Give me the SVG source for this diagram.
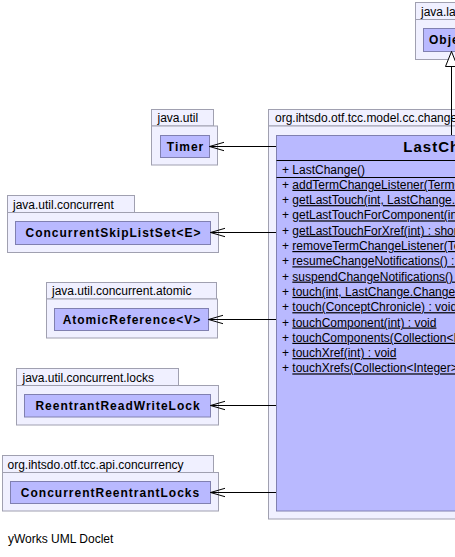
<svg xmlns="http://www.w3.org/2000/svg" width="455" height="557" viewBox="0 0 455 557">
<style>
.pkg{fill:#F0F0FF;stroke:#A0A0B0;stroke-width:1}
.cls{fill:#B9B9FF;stroke:#8080B0;stroke-width:1}
.pt{font-family:"Liberation Sans",Arial,sans-serif;font-size:12px;fill:#000}
.cn{font-family:"Liberation Sans",Arial,sans-serif;font-size:12px;font-weight:bold;letter-spacing:1px;fill:#000}
.title{font-family:"Liberation Sans",Arial,sans-serif;font-size:15px;font-weight:bold;letter-spacing:1px;fill:#000}
.m{font-family:"Liberation Sans",Arial,sans-serif;font-size:12px;fill:#000}
.u{text-decoration:underline}
.sep{stroke:#000;stroke-width:1}
.edge{stroke:#000;stroke-width:1;fill:none}
</style>
<defs>
<marker id="open" markerUnits="userSpaceOnUse" markerWidth="16" markerHeight="10" viewBox="-15 -5 16 10" refX="0" refY="0" orient="auto" overflow="visible">
<path d="M-14.5,-4.2 L0,0 L-14.5,4.2" fill="none" stroke="#000" stroke-width="1"/>
</marker>
<marker id="gen" markerUnits="userSpaceOnUse" markerWidth="18" markerHeight="14" viewBox="-16 -7 18 14" refX="0" refY="0" orient="auto" overflow="visible">
<path d="M-15,-6 L0,0 L-15,6 Z" fill="#fff" stroke="#000" stroke-width="1"/>
</marker>
</defs>
<rect width="455" height="557" fill="#fff"/>

<g id="pkg-java-lang">
<rect class="pkg" x="415.5" y="2.5" width="80" height="17"/>
<rect class="pkg" x="415.5" y="19.5" width="100" height="40"/>
<text class="pt" x="421" y="15.5">java.lang</text>
</g>
<g id="Object">
<rect class="cls" x="423.5" y="28.5" width="80" height="23"/>
<text class="cn" x="429" y="43.5">Object</text>
</g>

<g id="pkg-java-util">
<rect class="pkg" x="151.5" y="109.5" width="62" height="16.5"/>
<rect class="pkg" x="151.5" y="126" width="66" height="39"/>
<text class="pt" x="157.5" y="122">java.util</text>
</g>
<g id="Timer">
<rect class="cls" x="160.5" y="135.5" width="49" height="22"/>
<text class="cn" x="185.5" y="150.5" text-anchor="middle">Timer</text>
</g>

<g id="pkg-java-util-concurrent">
<rect class="pkg" x="7.5" y="195.5" width="127" height="17"/>
<rect class="pkg" x="7.5" y="212.5" width="211" height="40"/>
<text class="pt" x="13" y="208.5">java.util.concurrent</text>
</g>
<g id="ConcurrentSkipListSet">
<rect class="cls" x="15.5" y="221.5" width="195" height="23"/>
<text class="cn" x="113.5" y="236.5" text-anchor="middle">ConcurrentSkipListSet&lt;E&gt;</text>
</g>

<g id="pkg-java-util-concurrent-atomic">
<rect class="pkg" x="46.5" y="282.5" width="170" height="16.5"/>
<rect class="pkg" x="46.5" y="299" width="171" height="39"/>
<text class="pt" x="52" y="295">java.util.concurrent.atomic</text>
</g>
<g id="AtomicReference">
<rect class="cls" x="54.5" y="308.5" width="154" height="22"/>
<text class="cn" x="132" y="323.5" text-anchor="middle">AtomicReference&lt;V&gt;</text>
</g>

<g id="pkg-java-util-concurrent-locks">
<rect class="pkg" x="16.5" y="368.5" width="162" height="17"/>
<rect class="pkg" x="16.5" y="385.5" width="202" height="39.5"/>
<text class="pt" x="22.5" y="381.5">java.util.concurrent.locks</text>
</g>
<g id="ReentrantReadWriteLock">
<rect class="cls" x="24.5" y="394.5" width="186" height="22.5"/>
<text class="cn" x="118" y="409.5" text-anchor="middle">ReentrantReadWriteLock</text>
</g>

<g id="pkg-org-ihtsdo-otf-tcc-api-concurrency">
<rect class="pkg" x="2.5" y="455.5" width="211" height="17"/>
<rect class="pkg" x="2.5" y="472.5" width="216" height="38.5"/>
<text class="pt" x="7.5" y="468.5">org.ihtsdo.otf.tcc.api.concurrency</text>
</g>
<g id="ConcurrentReentrantLocks">
<rect class="cls" x="10.5" y="481.5" width="200" height="22"/>
<text class="cn" x="110.5" y="496.5" text-anchor="middle">ConcurrentReentrantLocks</text>
</g>

<g id="pkg-org-ihtsdo-otf-tcc-model-cc-change">
<rect class="pkg" x="268.5" y="109.5" width="300" height="16.5"/>
<rect class="pkg" x="268.5" y="126" width="400" height="393"/>
<text class="pt" x="275" y="122">org.ihtsdo.otf.tcc.model.cc.change</text>
</g>
<g id="LastChange">
<rect class="cls" x="276.5" y="135.5" width="352" height="375.5"/>
<text class="title" x="403.3" y="151.5">LastChange</text>
<line class="sep" x1="276.5" y1="160.5" x2="628.5" y2="160.5"/>
<text class="m" x="282" y="173.5">+ LastChange()</text>
<line class="sep" x1="276.5" y1="177.5" x2="628.5" y2="177.5"/>
<g class="m">
<text x="282" y="188.8">+ <tspan class="u">addTermChangeListener(TermChangeListener) : void</tspan></text>
<text x="282" y="204.1">+ <tspan class="u">getLastTouch(int, LastChange.Change) : short</tspan></text>
<text x="282" y="219.4">+ <tspan class="u">getLastTouchForComponent(int) : short</tspan></text>
<text x="282" y="234.7">+ <tspan class="u">getLastTouchForXref(int) : short</tspan></text>
<text x="282" y="250">+ <tspan class="u">removeTermChangeListener(TermChangeListener) : void</tspan></text>
<text x="282" y="265.3">+ <tspan class="u">resumeChangeNotifications() : void</tspan></text>
<text x="282" y="280.6">+ <tspan class="u">suspendChangeNotifications() : void</tspan></text>
<text x="282" y="295.9">+ <tspan class="u">touch(int, LastChange.Change) : void</tspan></text>
<text x="282" y="311.2">+ <tspan class="u">touch(ConceptChronicle) : void</tspan></text>
<text x="282" y="326.5">+ <tspan class="u">touchComponent(int) : void</tspan></text>
<text x="282" y="341.8">+ <tspan class="u">touchComponents(Collection&lt;Integer&gt;) : void</tspan></text>
<text x="282" y="357.1">+ <tspan class="u">touchXref(int) : void</tspan></text>
<text x="282" y="372.4">+ <tspan class="u">touchXrefs(Collection&lt;Integer&gt;) : void</tspan></text>
</g>
</g>

<g id="connectors">
<line class="edge" x1="451.5" y1="135" x2="451.5" y2="51.5" marker-end="url(#gen)"/>
<line class="edge" x1="276" y1="146.5" x2="209.5" y2="146.5" marker-end="url(#open)"/>
<line class="edge" x1="276" y1="232.5" x2="210.5" y2="232.5" marker-end="url(#open)"/>
<line class="edge" x1="276" y1="319.5" x2="208.5" y2="319.5" marker-end="url(#open)"/>
<line class="edge" x1="276" y1="405.5" x2="210.5" y2="405.5" marker-end="url(#open)"/>
<line class="edge" x1="276" y1="492.5" x2="210.5" y2="492.5" marker-end="url(#open)"/>
</g>

<text class="pt" x="8" y="543">yWorks UML Doclet</text>
</svg>
